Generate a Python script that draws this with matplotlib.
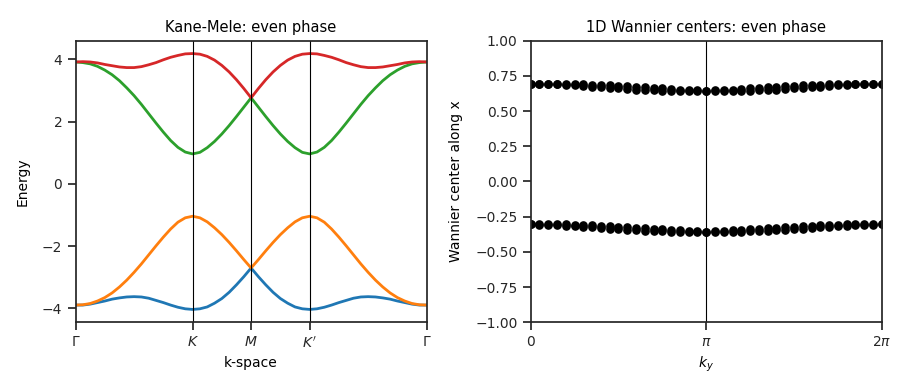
import numpy as np
import matplotlib
matplotlib.use("Agg")
import matplotlib.pyplot as plt

plt.rcParams["font.family"] = ["DejaVu Sans"]
plt.rcParams["axes.edgecolor"] = "#262626"
plt.rcParams["axes.linewidth"] = 1.25
for ax_name in ("xtick", "ytick"):
    plt.rcParams[f"{ax_name}.major.size"] = 6
    plt.rcParams[f"{ax_name}.major.width"] = 1.25
    plt.rcParams[f"{ax_name}.color"] = "#262626"

# ── band structure along Γ-K-M-K'-Γ ──
k_labels = [r"$\Gamma$", r"$K$", r"$M$", r"$K^\prime$", r"$\Gamma$"]
k_nodes = [0.0, 1/3, 1/2, 2/3, 1.0]

band_red = [3.91, 3.92, 3.91, 3.88, 3.83, 3.79, 3.75, 3.73, 3.73, 3.76, 3.82, 3.89, 3.98,
            4.06, 4.12, 4.17, 4.18, 4.16, 4.09, 3.97, 3.80, 3.59, 3.34, 3.06, 2.76,
            3.06, 3.34, 3.59, 3.80, 3.97, 4.09, 4.16, 4.18, 4.17, 4.12, 4.06, 3.98,
            3.89, 3.82, 3.76, 3.73, 3.73, 3.75, 3.79, 3.83, 3.88, 3.91, 3.92, 3.91]
band_green = [3.91, 3.89, 3.85, 3.77, 3.65, 3.50, 3.31, 3.08, 2.83, 2.55, 2.25, 1.95, 1.66,
              1.39, 1.17, 1.02, 0.96, 1.01, 1.16, 1.36, 1.60, 1.87, 2.16, 2.46, 2.76,
              2.46, 2.16, 1.87, 1.60, 1.36, 1.16, 1.01, 0.96, 1.02, 1.17, 1.39, 1.66,
              1.95, 2.25, 2.55, 2.83, 3.08, 3.31, 3.50, 3.65, 3.77, 3.85, 3.89, 3.91]
band_orange = [-3.89, -3.88, -3.84, -3.76, -3.65, -3.50, -3.31, -3.09, -2.84, -2.57, -2.28,
               -1.99, -1.71, -1.45, -1.23, -1.09, -1.04, -1.09, -1.22, -1.41, -1.63, -1.88,
               -2.15, -2.43, -2.70, -2.43, -2.15, -1.88, -1.63, -1.41, -1.22, -1.09, -1.04,
               -1.09, -1.23, -1.45, -1.71, -1.99, -2.28, -2.57, -2.84, -3.09, -3.31, -3.50,
               -3.65, -3.76, -3.84, -3.88, -3.89]
band_blue = [-3.89, -3.89, -3.86, -3.81, -3.76, -3.70, -3.66, -3.63, -3.62, -3.63, -3.67,
             -3.74, -3.81, -3.89, -3.96, -4.01, -4.03, -4.01, -3.95, -3.83, -3.68, -3.48,
             -3.24, -2.98, -2.70, -2.98, -3.24, -3.48, -3.68, -3.83, -3.95, -4.01, -4.03,
             -4.01, -3.96, -3.89, -3.81, -3.74, -3.67, -3.63, -3.62, -3.63, -3.66, -3.70,
             -3.76, -3.81, -3.86, -3.89, -3.89]

# ── 1D Wannier centres (two per cell) vs ky ──
wan_1 = [-0.305, -0.304, -0.304, -0.304, -0.305, -0.307, -0.309, -0.311, -0.314, -0.317,
         -0.321, -0.324, -0.327, -0.331, -0.335, -0.339, -0.343, -0.347, -0.351, -0.353,
         -0.356, -0.353, -0.351, -0.347, -0.343, -0.339, -0.335, -0.331, -0.327, -0.324,
         -0.321, -0.317, -0.314, -0.311, -0.309, -0.307, -0.305, -0.304, -0.304, -0.304,
         -0.305]
wan_2 = [-0.305, -0.306, -0.308, -0.310, -0.313, -0.317, -0.321, -0.325, -0.330, -0.335,
         -0.339, -0.344, -0.347, -0.351, -0.353, -0.355, -0.357, -0.357, -0.357, -0.357,
         -0.356, -0.357, -0.357, -0.357, -0.357, -0.355, -0.353, -0.351, -0.347, -0.344,
         -0.339, -0.335, -0.330, -0.325, -0.321, -0.317, -0.313, -0.310, -0.308, -0.306,
         -0.305]
ky_labels = [r"$0$", r"$\pi$", r"$2\pi$"]

fig, (ax1, ax2) = plt.subplots(1, 2, figsize=(9.1, 3.92), dpi=100)
fig.subplots_adjust(left=0.083, right=0.969, bottom=0.178, top=0.896, wspace=0.296)

# left: bands
k_dist = np.linspace(k_nodes[0], k_nodes[-1], len(band_red))
for band in (band_blue, band_orange, band_green, band_red):
    ax1.plot(k_dist, band, linewidth=2)
for n in k_nodes[1:-1]:
    ax1.axvline(n, linewidth=0.8, color="k")
ax1.set_xlim(k_nodes[0], k_nodes[-1])
ax1.set_xticks(k_nodes)
ax1.set_xticklabels(k_labels)
ax1.set_title("Kane-Mele: even phase", fontsize=10.5)
ax1.set_xlabel("k-space")
ax1.set_ylabel("Energy", labelpad=9)

# right: wannier centres (+ periodic images)
ky = np.linspace(0.0, 1.0, len(wan_1))
for shift in range(-2, 3):
    ax2.plot(ky, np.array(wan_1) + shift, "ko", markersize=5.2)
    ax2.plot(ky, np.array(wan_2) + shift, "ko", markersize=5.2)
ax2.axvline(0.5, linewidth=0.8, color="k")
ax2.set_xlim(0.0, 1.0)
ax2.set_ylim(-1.0, 1.0)
ax2.set_xticks([0.0, 0.5, 1.0])
ax2.set_xticklabels(ky_labels)
ax2.set_title("1D Wannier centers: even phase", fontsize=10.5)
ax2.set_xlabel(r"$k_y$")
ax2.set_ylabel("Wannier center along x", labelpad=9)

fig.savefig("out.png", dpi=100)
